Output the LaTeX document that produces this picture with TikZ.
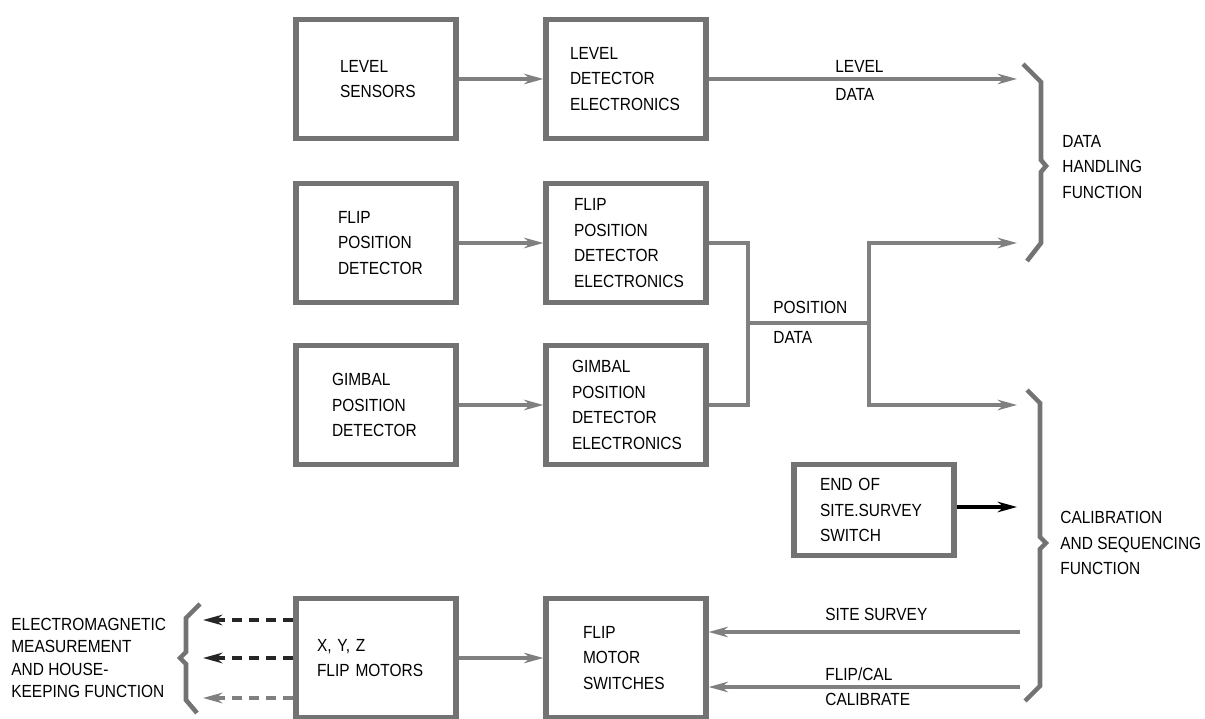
\documentclass[tikz,border=0pt]{standalone}
\usepackage{fontspec}
\setmainfont{Liberation Sans}[FakeStretch=0.88]
\usetikzlibrary{arrows.meta}
\definecolor{ink}{gray}{0.45}
\definecolor{wire}{gray}{0.5}
\tikzset{
  block/.style={draw=ink, line width=3pt, minimum width=3.2cm, minimum height=2.38cm, align=left, inner sep=0pt},
  line/.style={draw=wire, line width=1.8pt},
  flow/.style={line, -{Stealth[length=11pt,width=6pt,inset=3.5pt]}},
  dflow/.style={flow, dash pattern=on 0.2cm off 0.14cm},
  brace/.style={draw=ink, line width=2.6pt, line join=miter},
  tag/.style={inner sep=0pt, anchor=base west}
}
\begin{document}
\begin{tikzpicture}[x=0.02cm,y=-0.02cm,font=\fontsize{10}{14.7}\selectfont]
\useasboundingbox (0,0) rectangle (1205,719);
\node[block, text width=1.44cm] (sensors) at (376,79) {LEVEL\\ SENSORS};
\node[block, text width=2.24cm] (leveldet) at (626,79) {LEVEL\\ DETECTOR\\ ELECTRONICS};
\node[block, text width=1.52cm] (flipdet) at (376,243) {FLIP\\ POSITION\\ DETECTOR};
\node[block, text width=2.08cm] (flipelec) at (626,243) {FLIP\\ POSITION\\ DETECTOR\\ ELECTRONICS};
\node[block, text width=1.76cm] (gimdet) at (376,405) {GIMBAL\\ POSITION\\ DETECTOR};
\node[block, text width=2.16cm] (gimelec) at (626,405) {GIMBAL\\ POSITION\\ DETECTOR\\ ELECTRONICS};
\node[block, text width=2.16cm, minimum height=1.82cm] (endsw) at (874,510) {END OF\\ SITE.SURVEY\\ SWITCH};
\node[block, text width=2.36cm] (motors) at (376,658) {X, Y, Z\\ FLIP MOTORS};
\node[block, text width=1.72cm] (switches) at (626,658) {FLIP\\ MOTOR\\ SWITCHES};

\coordinate (dh1) at (1017,79);
\coordinate (dh2) at (1017,243);
\coordinate (cs1) at (1017,405);
\coordinate (cs2) at (1017,507);
\coordinate (cs3) at (1020,632);
\coordinate (cs4) at (1020,687);
\coordinate (pm) at (748,323);
\coordinate (ps) at (869,323);
\coordinate (em1) at (203,620);
\coordinate (em2) at (203,658);
\coordinate (em3) at (203,698);

\draw[flow] (sensors) -- (leveldet);
\draw[flow] (flipdet) -- (flipelec);
\draw[flow] (gimdet) -- (gimelec);
\draw[flow] (motors) -- (switches);
\draw[flow] (leveldet) -- (dh1);
\draw[line] (flipelec.east) -| (pm);
\draw[line] (gimelec.east) -| (pm);
\draw[line] (pm) -- (ps);
\draw[flow] (ps) |- (dh2);
\draw[flow] (ps) |- (cs1);
\draw[flow, draw=black] (endsw.east |- cs2) -- (cs2);
\draw[flow] (cs3) -- (cs3 -| switches.east);
\draw[flow] (cs4) -- (cs4 -| switches.east);
\draw[dflow, draw=black!85] (em1 -| motors.west) -- (em1);
\draw[dflow, draw=black!85] (em2 -| motors.west) -- (em2);
\draw[dflow] (em3 -| motors.west) -- (em3);

% braces
\draw[brace] (1023,64) -- (1041,82) -- (1041,160) -- (1046,166) -- (1041,172) -- (1041,243) -- (1027,261);
\draw[brace] (1027,390) -- (1040,403) -- (1040,537) -- (1046,543) -- (1040,549) -- (1040,686) -- (1025,701);
\draw[brace] (200,604) -- (186,618) -- (186,652) -- (180,658) -- (186,664) -- (186,700) -- (197,713);

\node[tag] (lvl) at (835,73) {LEVEL};
\node[tag] (lvd) at (835,101) {DATA};
\node[tag] (pos) at (773,314) {POSITION};
\node[tag] (posd) at (773,344) {DATA};
\node[tag] (site) at (825,621) {SITE SURVEY};
\node[tag] (flipcal) at (825,681) {FLIP/CAL};
\node[tag] (calib) at (825,706) {CALIBRATE};
\node[align=left, anchor=west, inner sep=0pt] (dhf) at (1062,167) {DATA\\ HANDLING\\ FUNCTION};
\node[align=left, anchor=west, inner sep=0pt] (csf) at (1060,543) {CALIBRATION\\ AND SEQUENCING\\ FUNCTION};
\node[align=left, anchor=west, inner sep=0pt, font=\fontsize{10}{12.6}\selectfont] (emf) at (11,658) {ELECTROMAGNETIC\\ MEASUREMENT\\ AND HOUSE-\\ KEEPING FUNCTION};
\end{tikzpicture}
\end{document}
